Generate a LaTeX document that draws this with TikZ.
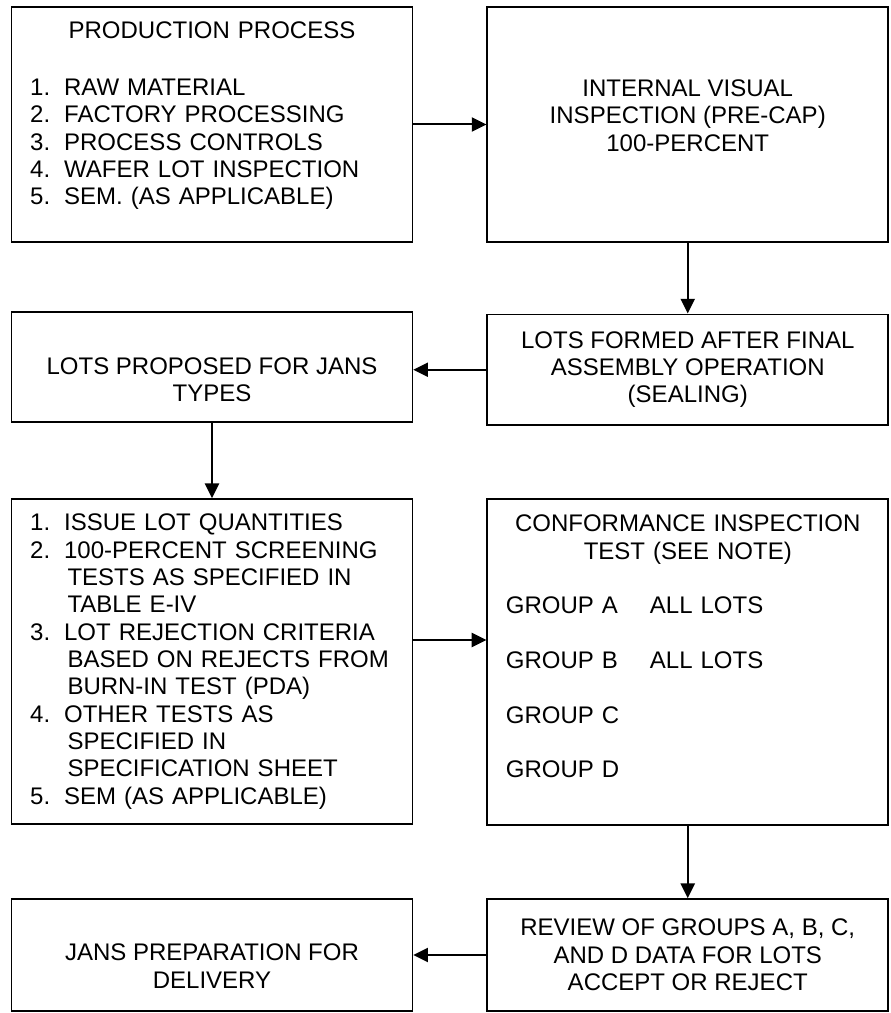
\documentclass[tikz,border=0pt]{standalone}
\usepackage{fontspec}
\setmainfont{Liberation Sans}
\usetikzlibrary{arrows.meta}

\newcommand{\itemno}[1]{\makebox[25.5pt][l]{#1}}
\newcommand{\contind}{\hspace*{28pt}}
\newcommand{\grouplbl}[1]{\makebox[108pt][l]{#1}}
\newcommand{\midline}[1]{\makebox[272.75pt][c]{#1}}

\begin{document}
\begin{tikzpicture}[x=0.75pt,y=0.75pt,yscale=-1,xscale=1,
  flowbox/.style={draw, line width=1.3pt, inner xsep=14pt, inner ysep=0pt, font=\fontsize{18pt}{20.5pt}\selectfont},
  listbox/.style={flowbox, align=left, text width=272.75pt},
  midbox/.style={flowbox, align=center, minimum width=300.6pt},
  arw/.style={line width=1.5pt, -{Triangle[length=11pt,width=10.5pt]}}]
\useasboundingbox (0,0) rectangle (891,1013);

%Shape: Rectangle [production process]
\node[listbox, minimum height=176.25pt] (prod) at (212,124.5) {\midline{PRODUCTION PROCESS}\\[22pt]
  \itemno{1.}RAW MATERIAL\\
  \itemno{2.}FACTORY PROCESSING\\
  \itemno{3.}PROCESS CONTROLS\\
  \itemno{4.}WAFER LOT INSPECTION\\
  \itemno{5.}SEM. (AS APPLICABLE)\\[-4.1pt]\mbox{}};
%Shape: Rectangle [pre-cap inspection]
\node[midbox, minimum height=176.25pt] (visual) at (687.75,124.5) {INTERNAL VISUAL\\INSPECTION (PRE-CAP)\\100-PERCENT\\[-6.8pt]\mbox{}};
%Shape: Rectangle [lots proposed]
\node[midbox, minimum height=83pt] (proposed) at (212,367) {\mbox{}\\[10.9pt]LOTS PROPOSED FOR JANS\\TYPES};
%Shape: Rectangle [lots formed]
\node[midbox, minimum height=83pt] (formed) at (687.75,369.7) {LOTS FORMED AFTER FINAL\\ASSEMBLY OPERATION\\(SEALING)};
%Shape: Rectangle [screening]
\node[listbox, minimum height=243.75pt] (screen) at (212,661.5) {\itemno{1.}ISSUE LOT QUANTITIES\\
  \itemno{2.}100-PERCENT SCREENING\\
  \contind TESTS AS SPECIFIED IN\\
  \contind TABLE E-IV\\
  \itemno{3.}LOT REJECTION CRITERIA\\
  \contind BASED ON REJECTS FROM\\
  \contind BURN-IN TEST (PDA)\\
  \itemno{4.}OTHER TESTS AS\\
  \contind SPECIFIED IN\\
  \contind SPECIFICATION SHEET\\
  \itemno{5.}SEM (AS APPLICABLE)};
%Shape: Rectangle [conformance]
\node[listbox, minimum height=244.5pt] (conform) at (687.75,662) {\midline{CONFORMANCE INSPECTION}\\
  \midline{TEST (SEE NOTE)}\\[20.5pt]
  \grouplbl{GROUP A}ALL LOTS\\[20.5pt]
  \grouplbl{GROUP B}ALL LOTS\\[20.5pt]
  GROUP C\\[20.5pt]
  GROUP D\\[2.9pt]\mbox{}};
%Shape: Rectangle [delivery]
\node[midbox, minimum height=84pt] (delivery) at (212,955) {\mbox{}\\[8.9pt]JANS PREPARATION FOR\\DELIVERY};
%Shape: Rectangle [review]
\node[midbox, minimum height=84pt] (review) at (687.75,955) {REVIEW OF GROUPS A, B, C,\\AND D DATA FOR LOTS\\ACCEPT OR REJECT};

%Straight Lines
\draw[arw] (prod.east) -- (visual.west);
%Straight Lines
\draw[arw] (visual.south) -- (formed.north);
%Straight Lines
\draw[arw] (formed.west) -- (formed.west -| proposed.east);
%Straight Lines
\draw[arw] (proposed.south) -- (screen.north);
%Straight Lines
\coordinate (tap) at (450,640);
\draw[arw] (screen.east |- tap) -- (conform.west |- tap);
%Straight Lines
\draw[arw] (conform.south) -- (review.north);
%Straight Lines
\draw[arw] (review.west) -- (delivery.east);

\end{tikzpicture}
\end{document}
